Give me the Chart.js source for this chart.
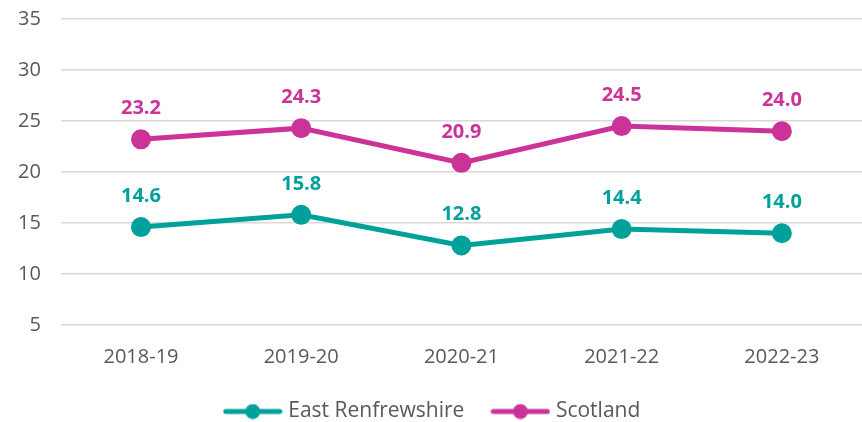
<!DOCTYPE html>
<html>
<head>
<meta charset="utf-8">
<script src="https://cdn.jsdelivr.net/npm/chart.js@4/dist/chart.umd.min.js"></script>
<style>
  html, body { margin: 0; padding: 0; background: #fff; }
  #wrap { width: 862px; height: 422px; }
</style>
</head>
<body>
<div id="wrap"><canvas id="trend"></canvas></div>
<script>
var years = ['2018-19', '2019-20', '2020-21', '2021-22', '2022-23'];
var eastRenfrewshire = [14.6, 15.8, 12.8, 14.4, 14.0];
var scotland = [23.2, 24.3, 20.9, 24.5, 24.0];
var yTicks = [5, 10, 15, 20, 25, 30, 35];

var teal = '#00A19A';
var pink = '#CC3399';
var font = "'Open Sans', 'Liberation Sans', sans-serif";

// little line + dot swatch for the legend
function swatch(color) {
  var c = document.createElement('canvas');
  c.width = 60; c.height = 16;
  var ctx = c.getContext('2d');
  ctx.strokeStyle = color;
  ctx.lineWidth = 5;
  ctx.lineCap = 'round';
  ctx.beginPath();
  ctx.moveTo(3, 8); ctx.lineTo(57, 8);
  ctx.stroke();
  ctx.fillStyle = color;
  ctx.beginPath();
  ctx.arc(30, 8, 7.5, 0, Math.PI * 2);
  ctx.fill();
  return c;
}

// value labels above every point
var valueLabels = {
  id: 'valueLabels',
  afterDatasetsDraw: function (chart) {
    var ctx = chart.ctx;
    ctx.save();
    ctx.font = 'bold 20px ' + font;
    ctx.textAlign = 'center';
    ctx.textBaseline = 'middle';
    chart.data.datasets.forEach(function (ds, i) {
      var meta = chart.getDatasetMeta(i);
      ctx.fillStyle = ds.borderColor;
      meta.data.forEach(function (pt, j) {
        ctx.fillText(ds.data[j].toFixed(1), pt.x, pt.y - 31);
      });
    });
    ctx.restore();
  }
};

new Chart(document.getElementById('trend'), {
  type: 'line',
  data: {
    labels: years,
    datasets: [{
      label: 'East Renfrewshire',
      data: eastRenfrewshire,
      borderColor: teal,
      backgroundColor: teal,
      borderWidth: 5,
      pointRadius: 7.5,
      pointHoverRadius: 7.5,
      tension: 0,
      clip: false
    }, {
      label: 'Scotland',
      data: scotland,
      borderColor: pink,
      backgroundColor: pink,
      borderWidth: 5,
      pointRadius: 7.5,
      pointHoverRadius: 7.5,
      tension: 0,
      clip: false
    }]
  },
  options: {
    responsive: true,
    maintainAspectRatio: false,
    animation: false,
    layout: { autoPadding: false, padding: { top: 19, right: -8, left: -2, bottom: 0 } },
    scales: {
      x: {
        offset: true,
        grid: { display: false },
        border: { display: false },
        ticks: { color: '#595959', font: { family: font, size: 20 }, padding: 12, maxRotation: 0 },
        afterFit: function (scale) {
          scale.paddingLeft = 0;
          scale.paddingRight = 0;
          scale.height = 45;
        }
      },
      y: {
        min: 5,
        max: 35,
        afterBuildTicks: function (axis) {
          axis.ticks = yTicks.map(function (v) { return { value: v }; });
        },
        afterFit: function (scale) {
          scale.paddingTop = 0;
          scale.paddingBottom = 0;
        },
        grid: { color: '#d9d9d9', lineWidth: 1.5, drawTicks: false },
        border: { display: false },
        ticks: { color: '#595959', font: { family: font, size: 20 }, padding: 20 }
      }
    },
    plugins: {
      tooltip: { enabled: false },
      legend: {
        position: 'bottom',
        maxHeight: 52,
        labels: {
          color: '#595959',
          font: { family: font, size: 21 },
          usePointStyle: true,
          pointStyleWidth: 50,
          padding: 31,
          generateLabels: function (chart) {
            return chart.data.datasets.map(function (ds, i) {
              return {
                text: ds.label,
                fontColor: '#595959',
                pointStyle: swatch(ds.borderColor),
                strokeStyle: ds.borderColor,
                fillStyle: ds.borderColor,
                lineWidth: 0,
                datasetIndex: i
              };
            });
          }
        }
      }
    }
  },
  plugins: [valueLabels]
});
</script>
</body>
</html>
